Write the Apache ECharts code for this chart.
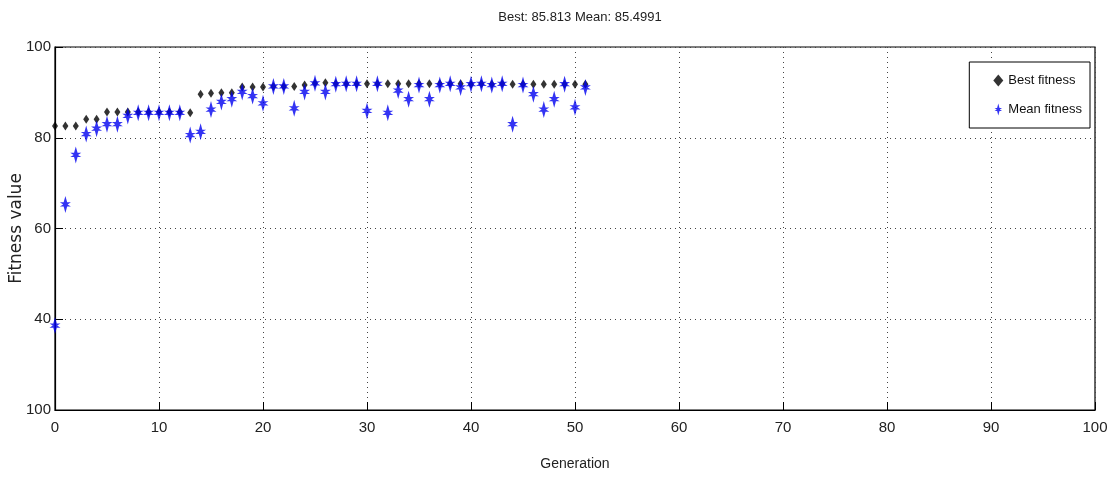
<!DOCTYPE html>
<html>
<head>
<meta charset="utf-8">
<script src="https://cdn.jsdelivr.net/npm/echarts@6/dist/echarts.min.js"></script>
<style>html,body{margin:0;padding:0;background:#fff}#c{width:1110px;height:480px}</style>
</head>
<body>
<div id="c"></div>
<script>
const titleText = 'Best: 85.813 Mean: 85.4991';
const generations = [];
for (let g = 0; g <= 51; g++) generations.push(g);
const bestFitness = [82.6,82.6,82.6,84.1,84.1,85.7,85.7,85.7,85.7,85.7,85.7,85.7,85.7,85.5,89.6,89.8,89.9,89.9,91.2,91.2,91.2,91.3,91.3,91.3,91.6,92.0,92.1,91.9,91.9,91.9,91.9,91.9,91.9,91.9,91.9,91.9,91.9,91.9,91.9,91.9,91.8,91.9,91.8,91.9,91.8,91.8,91.8,91.8,91.8,91.8,91.8,91.8];
const meanFitness = [38.6,65.3,76.2,80.8,82.0,83.0,83.0,84.8,85.5,85.5,85.5,85.5,85.5,80.6,81.3,86.2,87.9,88.5,90.1,89.2,87.6,91.3,91.3,86.5,90.1,92.0,90.1,91.8,91.9,91.9,85.9,91.9,85.5,90.4,88.5,91.6,88.5,91.6,91.9,91.1,91.8,91.9,91.6,91.9,83.0,91.6,89.6,86.2,88.5,91.8,86.7,91.1];
const xTicks = [0,10,20,30,40,50,60,70,80,90,100];
const yTickLabels = {20:'100',40:'40',60:'60',80:'80',100:'100'};

const narrow = '"Liberation Sans Narrow", "Arial Narrow", "Liberation Sans", Arial, sans-serif';
const starPath = 'path://M0,-8 L1.6,-2 L5,-2 L2,0 L5,2 L1.6,2 L0,8 L-1.6,2 L-5,2 L-2,0 L-5,-2 L-1.6,-2 Z';

const chart = echarts.init(document.getElementById('c'));
chart.setOption({
  animation: false,
  backgroundColor: '#fff',
  title: {
    text: titleText,
    left: 575, textAlign: 'center', top: 6,
    textStyle: {fontFamily: narrow, fontSize: 13, fontWeight: 'normal', color: '#222'}
  },
  grid: {left: 55, right: 15, top: 47, bottom: 70, show: true, borderColor: '#000', borderWidth: 1.2,
    backgroundColor: 'transparent', outerBoundsMode: 'none', containLabel: false},
  legend: {
    orient: 'vertical', right: 20, top: 62,
    backgroundColor: '#fff', borderColor: '#000', borderWidth: 1,
    padding: [12, 8, 12, 24], itemGap: 16, itemWidth: 10, itemHeight: 12,
    textStyle: {fontFamily: narrow, fontSize: 13, color: '#111'},
    data: ['Best fitness', 'Mean fitness']
  },
  xAxis: {
    type: 'value', min: 0, max: 100, interval: 10,
    name: 'Generation', nameLocation: 'middle', nameGap: 47, nameMoveOverlap: false,
    nameTextStyle: {fontFamily: narrow, fontSize: 14, color: '#222'},
    axisLine: {show: true, lineStyle: {color: '#000', width: 1.2}},
    axisTick: {show: true, inside: true, length: 8, lineStyle: {color: '#000'}},
    axisLabel: {fontFamily: narrow, fontSize: 15, color: '#222', margin: 10},
    splitLine: {show: true, lineStyle: {color: '#444', type: [1, 4], width: 1}}
  },
  yAxis: {
    type: 'value', min: 20, max: 100, interval: 20,
    name: 'Fitness value', nameLocation: 'middle', nameGap: 30, nameRotate: 90, nameMoveOverlap: false,
    nameTextStyle: {fontFamily: '"DejaVu Sans", Verdana, sans-serif', fontSize: 17, color: '#222'},
    axisLine: {show: true, lineStyle: {color: '#000', width: 1.2}},
    axisTick: {show: true, inside: true, length: 8, lineStyle: {color: '#000'}},
    axisLabel: {fontFamily: narrow, fontSize: 15, color: '#222', margin: 4,
      formatter: v => yTickLabels[v] !== undefined ? yTickLabels[v] : String(v)},
    splitLine: {show: true, lineStyle: {color: '#444', type: [1, 4], width: 1}}
  },
  series: [
    {
      name: 'Best fitness', type: 'scatter', symbol: 'diamond', symbolSize: [6, 9],
      itemStyle: {color: '#000'},
      data: generations.map((g, i) => [g, bestFitness[i]])
    },
    {
      name: 'Mean fitness', type: 'scatter', symbol: starPath, symbolSize: [11, 17],
      itemStyle: {color: '#0000f0'},
      data: generations.map((g, i) => [g, meanFitness[i]])
    }
  ]
});
</script>
</body>
</html>
